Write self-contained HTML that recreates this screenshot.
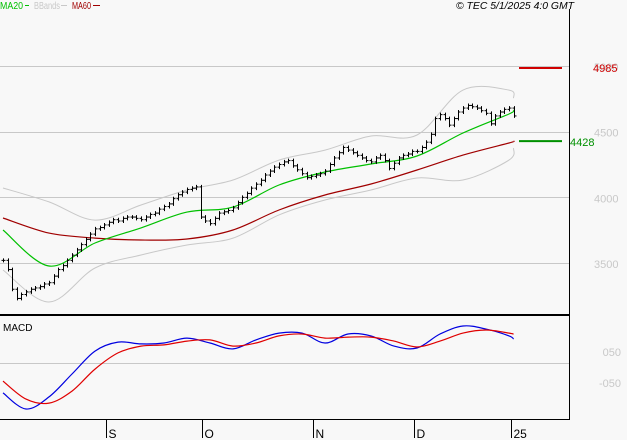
<!DOCTYPE html>
<html><head><meta charset="utf-8"><style>
body{margin:0;background:#f8f8f8;}
svg{display:block;font-family:"Liberation Sans",sans-serif;}
</style></head><body>
<svg id="c" width="627" height="440">
<rect width="627" height="440" fill="#f8f8f8"/>
<g id="grid"></g>
<g id="marks"></g>
<line x1="569.5" y1="9" x2="569.5" y2="419" stroke="#000" stroke-width="1"/>
<line x1="0" y1="315" x2="570" y2="315" stroke="#000" stroke-width="2"/>
<line x1="0" y1="419.5" x2="570" y2="419.5" stroke="#000" stroke-width="1"/>
<g font-size="10">
<text x="0" y="9" fill="#00c000" textLength="23" lengthAdjust="spacingAndGlyphs">MA20</text>
<line x1="25" y1="5.5" x2="29" y2="5.5" stroke="#00c000" stroke-width="1"/>
<text x="34" y="9" fill="#c8c8c8" textLength="26" lengthAdjust="spacingAndGlyphs">BBands</text>
<line x1="61" y1="5.5" x2="67" y2="5.5" stroke="#c8c8c8" stroke-width="1"/>
<text x="72" y="9" fill="#a00000" textLength="19" lengthAdjust="spacingAndGlyphs">MA60</text>
<line x1="93" y1="5.5" x2="100" y2="5.5" stroke="#a00000" stroke-width="1"/>
<text x="456" y="9" font-style="italic" fill="#000" textLength="118" lengthAdjust="spacingAndGlyphs">© TEC 5/1/2025 4:0 GMT</text>
<text x="3" y="331" fill="#000" font-size="10">MACD</text>
</g>
</svg>
<script>
const closes=[3520,3450,3300,3230,3260,3280,3300,3310,3320,3340,
3350,3400,3450,3480,3520,3560,3600,3640,3680,3720,
3760,3770,3790,3810,3830,3820,3840,3850,3850,3840,
3830,3850,3870,3880,3910,3930,3950,3990,4020,4040,
4060,4070,4080,3850,3820,3800,3840,3880,3890,3900,
3920,3960,4000,4030,4070,4100,4130,4170,4200,4230,
4250,4270,4280,4240,4210,4180,4150,4160,4170,4180,
4200,4250,4300,4340,4380,4360,4340,4320,4300,4280,
4270,4300,4320,4280,4220,4260,4300,4320,4330,4350,
4350,4380,4420,4480,4600,4630,4600,4550,4600,4650,
4680,4700,4690,4680,4660,4640,4560,4620,4650,4670,
4680,4620];
// sampled every 10 bars (0..110) + last bar 111
const ma60=[3843,3728,3690,3675,3683,3751,3904,4018,4102,4208,4322,4414,4428];
const ma20=[3751,3477,3652,3767,3888,3926,4094,4193,4254,4315,4490,4635,4665];
const bbUpper=[4071,3965,3827,3942,4056,4132,4284,4360,4467,4475,4817,4817,4756];
const bbLower=[3447,3203,3462,3561,3637,3690,3866,3980,4056,4147,4132,4284,4376];
// MACD sampled every 5 bars (0..110) + last bar 111
const macd=[-82,-134,-95,-21,53,82,76,79,95,79,60,89,111,111,79,108,102,69,63,108,134,124,102,92];
const signal=[-44,-102,-115,-76,-5,47,69,73,85,89,69,79,102,108,95,98,98,85,66,85,111,121,111,108];
const priceTicks=[3500,4000,4500,5000];
const priceTickLabels=["3500","4000","4500","5000"];
const macdTicks=[50,-50];
const macdTickLabels=["050","-050"];
const monthIdx=[23,44,68,90,111];
const monthLabels=["S","O","N","D","25"];
const lastMa60=4428, resistance=4985;

const NS="http://www.w3.org/2000/svg";
const xs=i=>3+i*4.6;
const yp=p=>263-(p-3500)*0.1313;
const ym=v=>367.5-v*0.31;
const grid=document.getElementById('grid'), marks=document.getElementById('marks');
function el(tag,attrs,parent){const e=document.createElementNS(NS,tag);for(const k in attrs)e.setAttribute(k,attrs[k]);parent.appendChild(e);return e;}

priceTicks.forEach((p,k)=>{
  const g=el('line',{x1:0,x2:569,y1:Math.round(yp(p))+0.5,y2:Math.round(yp(p))+0.5,stroke:'#c8c8c8'},grid);
  
  
  const t=el('text',{x:594,y:yp(p)+5,fill:'#c8c8c8','font-size':11},grid);
  t.textContent=priceTickLabels[k];
  
  
});
const zl=el('line',{x1:0,x2:569,y1:363.5,y2:363.5,stroke:'#c8c8c8'},grid);


macdTicks.forEach((v,k)=>{
  const t=el('text',{x:621,y:ym(v)+4,fill:'#c8c8c8','font-size':11,'text-anchor':'end'},grid);
  t.textContent=macdTickLabels[k];
  
  
});
monthIdx.forEach((i,k)=>{
  const x=Math.round(xs(i))-2.5;
  const l=el('line',{x1:x,x2:x,y1:420,y2:438,stroke:'#000'},grid);
  
  
  const t=el('text',{x:x+2,y:438,fill:'#000','font-size':12},grid);
  t.textContent=monthLabels[k];
  
  
});

function sampledLine(arr,step,yf,color,name,w){
  const P=arr.map((v,k)=>[xs(Math.min(k*step,closes.length-1)),yf(v)]);
  let d='M'+P[0][0].toFixed(1)+','+P[0][1].toFixed(1);
  for(let k=0;k<P.length-1;k++){
    const p0=P[Math.max(k-1,0)],p1=P[k],p2=P[k+1],p3=P[Math.min(k+2,P.length-1)];
    const c1=[p1[0]+(p2[0]-p0[0])/6,p1[1]+(p2[1]-p0[1])/6];
    const c2=[p2[0]-(p3[0]-p1[0])/6,p2[1]-(p3[1]-p1[1])/6];
    d+=' C'+c1[0].toFixed(1)+','+c1[1].toFixed(1)+' '+c2[0].toFixed(1)+','+c2[1].toFixed(1)+' '+p2[0].toFixed(1)+','+p2[1].toFixed(1);
  }
  const p=el('path',{d:d,fill:'none',stroke:color,'stroke-width':w||1.2},marks);
  
  
}
sampledLine(bbUpper,10,yp,'#c8c8c8','bbands-upper',1);
sampledLine(bbLower,10,yp,'#c8c8c8','bbands-lower',1);
sampledLine(ma60,10,yp,'#a00000','ma60-line');
sampledLine(ma20,10,yp,'#00c000','ma20-line');
sampledLine(macd,5,ym,'#0000e0','macd-line');
sampledLine(signal,5,ym,'#e00000','signal-line');

closes.forEach((c,i)=>{
  const o=i>0?closes[i-1]:c;
  const hi=Math.max(o,c)+15, lo=Math.min(o,c)-15;
  const x=Math.round(xs(i))+0.5;
  const g=el('g',{stroke:'#000','stroke-width':1},marks);
  
  
  el('line',{x1:x,x2:x,y1:yp(hi),y2:yp(lo)},g);
  el('line',{x1:x-2,x2:x,y1:yp(o),y2:yp(o)},g);
  el('line',{x1:x,x2:x+2,y1:yp(c),y2:yp(c)},g);
});

const r=el('line',{x1:519,x2:562,y1:yp(resistance),y2:yp(resistance),stroke:'#d00000','stroke-width':2},marks);


const rt=el('text',{x:593,y:yp(resistance)+4,fill:'#d00000','font-size':11},marks);
rt.textContent=String(resistance);


const m=el('line',{x1:519,x2:562,y1:yp(lastMa60),y2:yp(lastMa60),stroke:'#009000','stroke-width':2},marks);


const mt=el('text',{x:570,y:yp(lastMa60)+5,fill:'#009000','font-size':11},marks);
mt.textContent=String(lastMa60);


</script>
</body></html>
